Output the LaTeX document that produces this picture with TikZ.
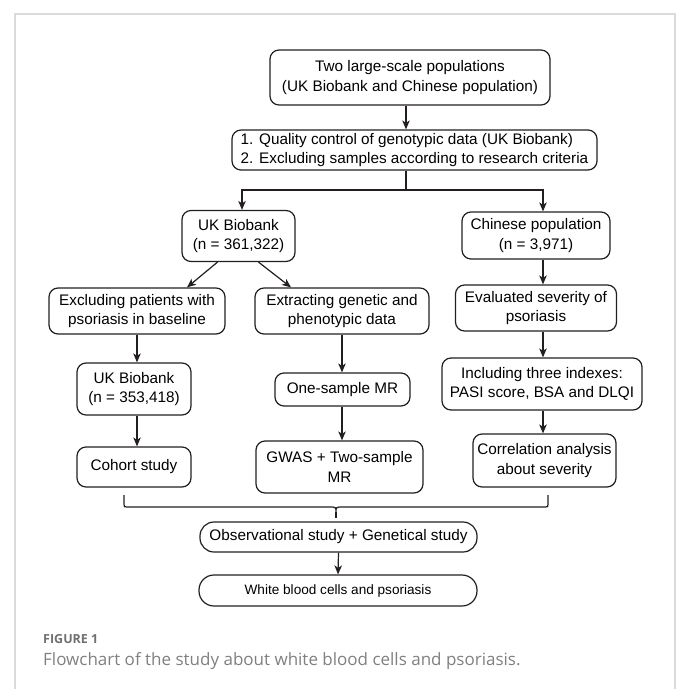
\documentclass[tikz,border=0pt]{standalone}
\usepackage{fontspec}
\setmainfont{Liberation Sans}
\newfontfamily\boxfont{Liberation Sans}
\newfontfamily\capfont{Open Sans}
\usetikzlibrary{arrows.meta}
\definecolor{ink}{HTML}{231F20}
\definecolor{capgray}{HTML}{808080}
\definecolor{labgray}{HTML}{707070}
\definecolor{framegray}{HTML}{DADADA}
\tikzstyle{box}=[draw=ink,line width=1.2pt,rounded corners=9pt,align=center,inner sep=0pt,font=\boxfont\fontsize{15.3}{19.5}\selectfont]
\tikzstyle{line}=[draw=ink,line width=1.2pt]
\tikzstyle{arr}=[line,-{Stealth[length=9pt,width=7.5pt,inset=2.5pt]}]

\begin{document}
\begin{tikzpicture}[x=1pt,y=-1pt]
\useasboundingbox (0,0) rectangle (678,689);
\draw[framegray,line width=1.6pt] (15,689)--(15,14)--(675,14)--(675,689);
% boxes
\node[box,minimum width=280pt,minimum height=55pt] (pop) at (410,77.5) {Two large-scale populations\\(UK Biobank and Chinese population)};
\node[box,minimum width=365pt,minimum height=40pt,align=left] (qc) at (414.5,150) {1. Quality control of genotypic data (UK Biobank)\\2. Excluding samples according to research criteria};
\node[box,minimum width=113pt,minimum height=51pt] (ukb) at (238.5,236) {UK Biobank\\(n = 361,322)};
\node[box,minimum width=148pt,minimum height=47pt] (chn) at (536,235.5) {Chinese population\\(n = 3,971)};
\node[box,minimum width=176pt,minimum height=46pt] (excl) at (137,311) {Excluding patients with\\psoriasis in baseline};
\node[box,minimum width=174pt,minimum height=46pt] (extr) at (342,311) {Extracting genetic and\\phenotypic data};
\node[box,minimum width=161pt,minimum height=46pt] (eval) at (536,308) {Evaluated severity of\\psoriasis};
\node[box,minimum width=114pt,minimum height=52pt] (ukbb) at (134,389) {UK Biobank\\(n = 353,418)};
\node[box,minimum width=135pt,minimum height=33pt] (onemr) at (342.5,389.5) {One-sample MR};
\node[box,minimum width=200pt,minimum height=52pt] (incl) at (542,384) {Including three indexes:\\PASI score, BSA and DLQI};
\node[box,minimum width=114pt,minimum height=40pt] (cohort) at (134,467) {Cohort study};
\node[box,minimum width=167pt,minimum height=52pt] (gwas) at (339.5,467) {GWAS + Two-sample\\MR};
\node[box,minimum width=143pt,minimum height=53pt] (corr) at (544.5,460.5) {Correlation analysis\\about severity};
\node[box,minimum width=277pt,minimum height=30pt,rounded corners=14pt] (obs) at (338.5,537) {Observational study + Genetical study};
\node[box,minimum width=278pt,minimum height=31pt,rounded corners=15pt,font=\boxfont\fontsize{13.6}{16}\selectfont] (wbc) at (338,590.5) {White blood cells and psoriasis};
% connectors
\coordinate (split) at (406,190);
\coordinate (brl) at (242,190);
\coordinate (brr) at (543,190);
\draw[arr] (pop.south -| split) -- (qc.north -| split);
\draw[arr] (qc.south -| split) -- (split) -| (ukb.north -| brl);
\draw[arr] (split) -| (chn.north -| brr);
\draw[arr] ([xshift=-21pt]ukb.south) -- ([xshift=50pt]excl.north);
\draw[arr] ([xshift=20pt]ukb.south) -- ([xshift=-51pt]extr.north);
\draw[arr] (chn.south -| brr) -- (eval.north -| brr);
\draw[arr] (eval.south -| brr) -- (incl.north -| brr);
\draw[arr] (incl.south -| brr) -- (corr.north -| brr);
\draw[arr] (excl.south) -- (excl.south |- ukbb.north);
\draw[arr] (ukbb.south -| excl) -- (cohort.north -| excl);
\draw[arr] (extr.south) -- (extr.south |- onemr.north);
\draw[arr] (onemr.south -| extr) -- (gwas.north -| extr);
% brace
\draw[line] (124,495) -- (124,504) .. controls (124,507) .. (127,507) -- (330,507) .. controls (336,507) .. (336,513) .. controls (336,507) .. (342,507) -- (545,507) .. controls (548,507) .. (548,504) -- (548,495);
\draw[line] (336,512) -- (336,518);
\draw[arr] (obs.south) -- (wbc.north);
% caption
\node[anchor=base west,inner sep=0pt,text=labgray,font=\capfont\bfseries\fontsize{12.5}{15}\selectfont] (figlab) at (43,643) {FIGURE 1};
\node[anchor=base west,inner sep=0pt,text=capgray,font=\capfont\fontsize{17}{20}\selectfont] (cap) at (43,665) {Flowchart of the study about white blood cells and psoriasis.};
\end{tikzpicture}
\end{document}
